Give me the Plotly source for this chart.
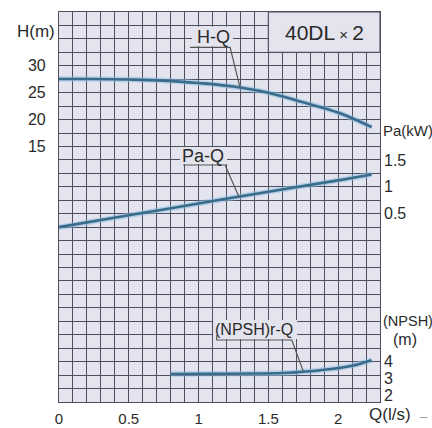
import plotly.graph_objects as go

# ---- data ----
q_h = [0, 0.25, 0.5, 0.75, 1.0, 1.25, 1.5, 1.75, 2.0, 2.24]
h_vals = [27.55, 27.55, 27.45, 27.25, 26.8, 26.15, 25.0, 23.2, 21.3, 18.6]

q_pa = [0, 0.5, 1.0, 1.5, 2.0, 2.24]
pa_vals = [0.25, 0.47, 0.69, 0.91, 1.12, 1.23]

q_npsh = [0.8, 1.1, 1.4, 1.6, 1.8, 1.95, 2.1, 2.24]
npsh_vals = [3.25, 3.26, 3.28, 3.31, 3.42, 3.55, 3.75, 4.08]

x_ticks = [0, 0.5, 1, 1.5, 2]
x_tick_text = ["0", "0.5", "1", "1.5", "2"]
h_ticks = [15, 20, 25, 30]
pa_ticks = [0.5, 1, 1.5]
pa_tick_text = ["0.5", "1", "1.5"]
npsh_ticks = [2, 3, 4]

title_text = "40DL<span style='font-size:15px'> × </span>2"

# ---- style ----
BG = "#e4e4ee"
GRID = "#4e4e5e"
TXT = "#2a2a2a"
CURVE = "#3b6b8b"
HALO = "rgba(140,190,225,0.55)"
FONT = "Liberation Sans, Arial, sans-serif"
GW = 1.15

fig = go.Figure()

def add_curve(x, y, yaxis):
    fig.add_trace(go.Scatter(x=x, y=y, yaxis=yaxis, mode="lines",
                             line=dict(color=HALO, width=5.5, shape="spline"),
                             hoverinfo="skip", showlegend=False))
    fig.add_trace(go.Scatter(x=x, y=y, yaxis=yaxis, mode="lines",
                             line=dict(color=CURVE, width=2.6, shape="spline"),
                             showlegend=False))

add_curve(q_h, h_vals, "y")
add_curve(q_pa, pa_vals, "y2")
add_curve(q_npsh, npsh_vals, "y3")

fig.update_layout(
    width=432, height=428,
    margin=dict(l=59, r=52, t=12, b=26),
    paper_bgcolor="white", plot_bgcolor=BG,
    font=dict(family=FONT, color=TXT, size=16),
    xaxis=dict(range=[0, 2.3], tickvals=x_ticks, ticktext=x_tick_text,
               automargin=False,
               showgrid=True, gridcolor=GRID, gridwidth=GW, zeroline=False,
               showline=True, mirror=True, linecolor=GRID, linewidth=GW,
               ticks="", ticklabelstandoff=3,
               tickfont=dict(size=15, color=TXT),
               minor=dict(tick0=0, dtick=0.1, showgrid=True, gridcolor=GRID, gridwidth=GW)),
    yaxis=dict(range=[-32.5, 40], tickvals=h_ticks, automargin=False,
               showgrid=True, gridcolor=GRID, gridwidth=GW, zeroline=False,
               showline=True, mirror=True, linecolor=GRID, linewidth=GW,
               ticks="", ticklabelstandoff=9,
               tickfont=dict(size=16, color=TXT),
               minor=dict(tick0=0, dtick=2.5, showgrid=True, gridcolor=GRID, gridwidth=GW)),
    yaxis2=dict(range=[-3.0, 4.25], tickvals=pa_ticks, ticktext=pa_tick_text,
                overlaying="y", side="right", anchor="x", automargin=False,
                showgrid=False, zeroline=False, showline=False, ticks="",
                ticklabelstandoff=3, tickfont=dict(size=16, color=TXT)),
    yaxis3=dict(range=[1.575, 24.93], tickvals=npsh_ticks,
                overlaying="y", side="right", anchor="x", automargin=False,
                showgrid=False, zeroline=False, showline=False, ticks="",
                ticklabelstandoff=3, tickfont=dict(size=16, color=TXT)),
)

# title box top-right
fig.add_shape(type="rect", xref="x", yref="y", x0=1.5, x1=2.3, y0=32.5, y1=40,
              fillcolor=BG, line=dict(color=GRID, width=GW), layer="above")
fig.add_annotation(xref="x", yref="y", x=1.9, y=36.2, text=title_text,
                   showarrow=False, font=dict(size=21, color=TXT))

# curve labels: blank patch, underline + leader line, text
LEAD = dict(color="#555555", width=1.2)
NOLINE = dict(width=0)

def label(text, size, tx, ty, blank, path):
    fig.add_shape(type="rect", xref="x", yref="y", x0=blank[0], x1=blank[1],
                  y0=blank[2], y1=blank[3], fillcolor=BG, line=NOLINE, layer="above")
    fig.add_shape(type="path", xref="x", yref="y", path=path, line=LEAD, layer="above")
    fig.add_annotation(xref="x", yref="y", x=tx, y=ty, text=text, showarrow=False,
                       font=dict(size=size, color=TXT))

label("H-Q", 18, 1.104, 35.4, (0.953, 1.247, 33.65, 37.3),
      "M 0.939,33.44 L 1.226,33.44 L 1.297,26.0")
label("Pa-Q", 18, 1.032, 13.3, (0.867, 1.204, 11.75, 14.9),
      "M 0.889,11.56 L 1.19,11.56 L 1.29,5.61")
label("(NPSH)r-Q", 16, 1.398, -19.0, (1.104, 1.706, -20.8, -17.25),
      "M 1.13,-20.04 L 1.13,-20.97 L 1.668,-20.97 L 1.751,-26.86")

# axis titles
fig.add_annotation(xref="paper", yref="paper", x=-0.0717, y=0.951, text="H(m)",
                   showarrow=False, xanchor="center", yanchor="middle",
                   font=dict(size=17, color=TXT))
fig.add_annotation(xref="paper", yref="paper", x=1.0031, y=0.697, text="Pa(kW)",
                   showarrow=False, xanchor="left", yanchor="middle",
                   font=dict(size=15, color=TXT))
fig.add_annotation(xref="paper", yref="paper", x=1.004, y=0.2077, text="(NPSH)",
                   showarrow=False, xanchor="left", yanchor="middle",
                   font=dict(size=14.5, color=TXT))
fig.add_annotation(xref="paper", yref="paper", x=1.078, y=0.1615, text="(m)",
                   showarrow=False, xanchor="center", yanchor="middle",
                   font=dict(size=16, color=TXT))
fig.add_annotation(xref="paper", yref="paper", x=0.9595, y=-0.0333, text="Q(l/s)",
                   showarrow=False, xanchor="left", yanchor="middle",
                   font=dict(size=17, color=TXT))
fig.add_annotation(xref="paper", yref="paper", x=1.136, y=-0.036, text="–",
                   showarrow=False, xanchor="center", yanchor="middle",
                   font=dict(size=13, color="#999999"))

fig.write_html("out.html", config={"displayModeBar": False},
               post_script="document.body.style.margin='0';")
